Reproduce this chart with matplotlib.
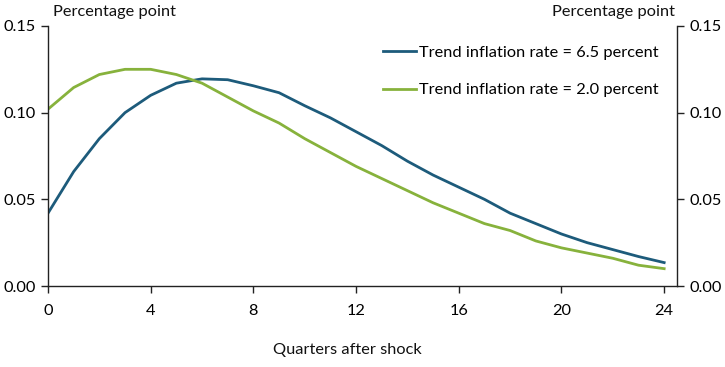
import matplotlib
matplotlib.use("Agg")
import matplotlib.pyplot as plt

quarters = list(range(25))
trend_65 = [0.042, 0.066, 0.085, 0.100, 0.110, 0.117, 0.1195, 0.119, 0.1155, 0.1115,
            0.104, 0.097, 0.089, 0.081, 0.072, 0.064, 0.057, 0.050, 0.042, 0.036,
            0.030, 0.025, 0.021, 0.017, 0.0135]
trend_20 = [0.102, 0.1145, 0.122, 0.125, 0.125, 0.122, 0.117, 0.109, 0.101, 0.094,
            0.085, 0.077, 0.069, 0.062, 0.055, 0.048, 0.042, 0.036, 0.032, 0.026,
            0.022, 0.019, 0.016, 0.012, 0.010]
xticks = [0, 4, 8, 12, 16, 20, 24]
yticks = [0.00, 0.05, 0.10, 0.15]
labels = ["Trend inflation rate = 6.5 percent", "Trend inflation rate = 2.0 percent"]

plt.rcParams['font.family'] = ['Lato', 'DejaVu Sans']
fs = 11.8
blue = "#1d5b7b"
green = "#87b23c"

fig = plt.figure(figsize=(7.25, 3.67), dpi=100)
ax = fig.add_axes([0.0662, 0.2207, 0.8676, 0.7085])
ax.plot(quarters, trend_65, color=blue, lw=2, label=labels[0])
ax.plot(quarters, trend_20, color=green, lw=2, label=labels[1])
ax.set_xlim(0, 24.5)
ax.set_ylim(0, 0.15)
ax.set_xticks(xticks)
ax.set_yticks(yticks)
ax.set_yticklabels([f"{v:.2f}" for v in yticks])
ax.spines["top"].set_visible(False)
for s in ["left", "bottom", "right"]:
    ax.spines[s].set_color("#222222")
    ax.spines[s].set_linewidth(1.0)
ax.tick_params(axis="both", direction="out", length=5, width=1, labelsize=fs, color="#222222")
ax.tick_params(axis="x", pad=8)
ax.tick_params(axis="y", right=True, labelright=True, pad=4)

kw = dict(fontsize=fs, color="#111111")
fig.text(53/725, 1-12/367, "Percentage point", ha="left", va="center", **kw)
fig.text(675/725, 1-12/367, "Percentage point", ha="right", va="center", **kw)
fig.text(347/725, 1-350/367, "Quarters after shock", ha="center", va="center", **kw)

leg = ax.legend(loc="upper left", bbox_to_anchor=(0.522, 0.95), frameon=False,
                fontsize=fs, handlelength=2.0, handletextpad=0.2, labelspacing=1.4,
                borderaxespad=0)

fig.savefig("out.png", dpi=100)
